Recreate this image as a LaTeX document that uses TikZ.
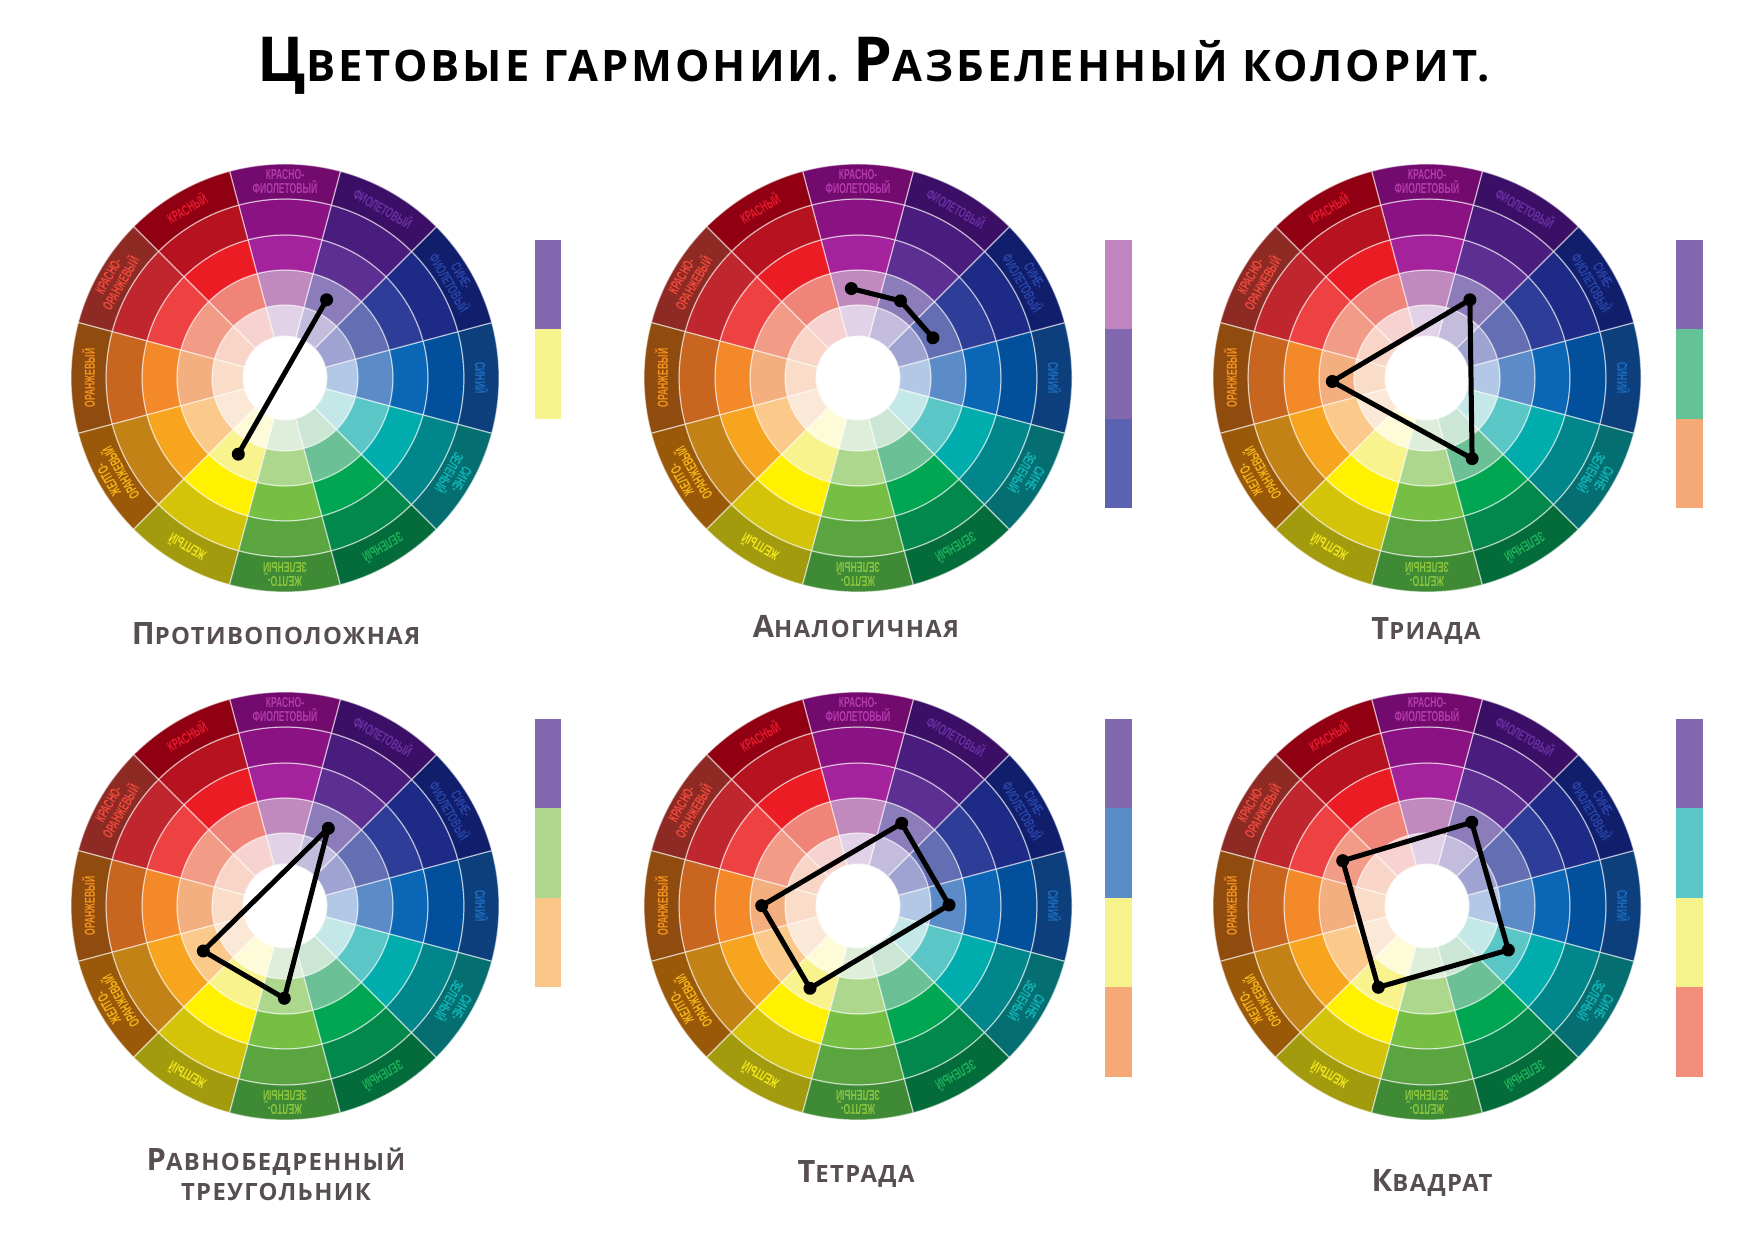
\documentclass[tikz,border=0pt]{standalone}
\usepackage{fontspec}
\setmainfont{Open Sans}
\newfontfamily\ttlfont[LetterSpace=7]{Open Sans}
\newfontfamily\capfont[LetterSpace=6]{Open Sans}
\newfontfamily\lblfont[FakeStretch=0.6]{Liberation Sans}
% ring colours: w<sector>r<ring>, ring 1 innermost .. 5 outermost
\definecolor{w0r5}{HTML}{0C3F7C}\definecolor{w0r4}{HTML}{02509C}\definecolor{w0r3}{HTML}{0B67B5}\definecolor{w0r2}{HTML}{5B8CC8}\definecolor{w0r1}{HTML}{B3C8E6}
\definecolor{w1r5}{HTML}{101E6C}\definecolor{w1r4}{HTML}{1D2A86}\definecolor{w1r3}{HTML}{2D3D98}\definecolor{w1r2}{HTML}{646EB2}\definecolor{w1r1}{HTML}{9EA3D2}
\definecolor{w2r5}{HTML}{3B0F65}\definecolor{w2r4}{HTML}{4A1C7E}\definecolor{w2r3}{HTML}{5E2F93}\definecolor{w2r2}{HTML}{8C7DBA}\definecolor{w2r1}{HTML}{C4BCDD}
\definecolor{w3r5}{HTML}{730A6E}\definecolor{w3r4}{HTML}{8B1282}\definecolor{w3r3}{HTML}{A4229B}\definecolor{w3r2}{HTML}{C08ABF}\definecolor{w3r1}{HTML}{E2D2E7}
\definecolor{w4r5}{HTML}{900012}\definecolor{w4r4}{HTML}{B7121F}\definecolor{w4r3}{HTML}{EC1C24}\definecolor{w4r2}{HTML}{F08479}\definecolor{w4r1}{HTML}{F6D3D0}
\definecolor{w5r5}{HTML}{8D2A24}\definecolor{w5r4}{HTML}{C0262E}\definecolor{w5r3}{HTML}{EE4242}\definecolor{w5r2}{HTML}{F29B86}\definecolor{w5r1}{HTML}{F9D5C8}
\definecolor{w6r5}{HTML}{8F4C0E}\definecolor{w6r4}{HTML}{C8651F}\definecolor{w6r3}{HTML}{F4892A}\definecolor{w6r2}{HTML}{F3AF80}\definecolor{w6r1}{HTML}{FADDC8}
\definecolor{w7r5}{HTML}{9A5908}\definecolor{w7r4}{HTML}{C38215}\definecolor{w7r3}{HTML}{F7A51E}\definecolor{w7r2}{HTML}{FBC98A}\definecolor{w7r1}{HTML}{FCE8D6}
\definecolor{w8r5}{HTML}{A39B0E}\definecolor{w8r4}{HTML}{D3C409}\definecolor{w8r3}{HTML}{FFF100}\definecolor{w8r2}{HTML}{F8F38D}\definecolor{w8r1}{HTML}{FEFBD8}
\definecolor{w9r5}{HTML}{3E8A35}\definecolor{w9r4}{HTML}{5BA541}\definecolor{w9r3}{HTML}{77BF44}\definecolor{w9r2}{HTML}{AED78E}\definecolor{w9r1}{HTML}{DFEEDB}
\definecolor{w10r5}{HTML}{046B3A}\definecolor{w10r4}{HTML}{03884B}\definecolor{w10r3}{HTML}{00A651}\definecolor{w10r2}{HTML}{6BC195}\definecolor{w10r1}{HTML}{CCE6D6}
\definecolor{w11r5}{HTML}{056E71}\definecolor{w11r4}{HTML}{00868B}\definecolor{w11r3}{HTML}{00ACAC}\definecolor{w11r2}{HTML}{5BC6C6}\definecolor{w11r1}{HTML}{C4E8E8}
% label colours
\definecolor{l0}{HTML}{1C6FC2}\definecolor{l1}{HTML}{2A46AA}\definecolor{l2}{HTML}{6B2FA3}\definecolor{l3}{HTML}{B43AAD}
\definecolor{l4}{HTML}{E41B2E}\definecolor{l5}{HTML}{F04A3C}\definecolor{l6}{HTML}{F7941E}\definecolor{l7}{HTML}{F6B519}
\definecolor{l8}{HTML}{F3E81C}\definecolor{l9}{HTML}{8CC63F}\definecolor{l10}{HTML}{1DB25A}\definecolor{l11}{HTML}{12B5B8}
% swatches
\definecolor{svio}{HTML}{8268AF}\definecolor{syel}{HTML}{F6F38C}\definecolor{spink}{HTML}{C084BF}
\definecolor{sbv}{HTML}{5B62B2}\definecolor{sgrn}{HTML}{64C297}\definecolor{sorg}{HTML}{F4A977}
\definecolor{slg}{HTML}{AED68D}\definecolor{slo}{HTML}{FBC788}\definecolor{sblu}{HTML}{5B8CC8}
\definecolor{steal}{HTML}{5BC6C6}\definecolor{ssal}{HTML}{F28F7C}
\definecolor{capgray}{HTML}{574F4F}

\newcommand\colorwheel[3]{%
\begin{scope}[shift={(#1,#2)}]
\foreach \i in {0,...,11}{%
  \pgfmathsetmacro\sa{\i*30-15}%
  \pgfmathsetmacro\ea{\i*30+15}%
  \foreach \k/\ri/\ro in {1/42/73,2/73/108,3/108/143,4/143/179,5/179/214}{%
    \filldraw[fill=w\i r\k, draw=white, draw opacity=0.55, line width=0.6pt]
      (\sa:\ri) arc[start angle=\sa, end angle=\ea, radius=\ri]
      -- (\ea:\ro) arc[start angle=\ea, end angle=\sa, radius=\ro] -- cycle;
  }%
}%
\foreach \i/\t in {0/{СИНИЙ},1/{СИНЕ-\\ФИОЛЕТОВЫЙ},2/{ФИОЛЕТОВЫЙ},3/{КРАСНО-\\ФИОЛЕТОВЫЙ},4/{КРАСНЫЙ},5/{КРАСНО-\\ОРАНЖЕВЫЙ},6/{ОРАНЖЕВЫЙ},7/{ЖЕЛТО-\\ОРАНЖЕВЫЙ},8/{ЖЕЛТЫЙ},9/{ЖЕЛТО-\\ЗЕЛЕНЫЙ},10/{ЗЕЛЕНЫЙ},11/{СИНЕ-\\ЗЕЛЕНЫЙ}}{%
  \pgfmathsetmacro\ang{\i*30}%
  \node[lbl, text=l\i, rotate=\ang-90] (#3l\i) at (\ang:196.5) {\t};
}%
\end{scope}}

\begin{document}
\begin{tikzpicture}[x=0.5pt,y=0.5pt,
  lbl/.style={font=\lblfont\bfseries\fontsize{7.2}{7.2}\selectfont, align=center, inner sep=0pt},
  dot/.style={circle, fill=black, inner sep=0pt, minimum size=6.5pt},
  conn/.style={line width=2.5pt, line join=round, line cap=round},
  capt/.style={font=\capfont\bfseries, text=capgray, anchor=base, align=center}]
\useasboundingbox (0,0) rectangle (1754,1240);
\fill[white] (0,0) rectangle (1754,1240);

\node[anchor=base, font=\ttlfont\bfseries] (title) at (874,1158)
 {{\fontsize{31}{31}\selectfont Ц}\fontsize{21.7}{22}\selectfont ВЕТОВЫЕ ГАРМОНИИ. {\fontsize{31}{31}\selectfont Р}АЗБЕЛЕННЫЙ КОЛОРИТ.};

\colorwheel{285}{862}{a}
\colorwheel{858}{862}{b}
\colorwheel{1427}{862}{c}
\colorwheel{285}{334}{d}
\colorwheel{858}{334}{e}
\colorwheel{1427}{334}{f}

% swatches
\fill[svio] (535,1000) rectangle (561,910.5);
\fill[syel] (535,910.5) rectangle (561,821);
\fill[spink] (1105,1000) rectangle (1132,910.5);
\fill[svio] (1105,910.5) rectangle (1132,821);
\fill[sbv] (1105,821) rectangle (1132,731.5);
\fill[svio] (1676,1000) rectangle (1703,910.5);
\fill[sgrn] (1676,910.5) rectangle (1703,821);
\fill[sorg] (1676,821) rectangle (1703,731.5);
\fill[svio] (535,521) rectangle (561,431.5);
\fill[slg] (535,431.5) rectangle (561,342);
\fill[slo] (535,342) rectangle (561,252.5);
\fill[svio] (1105,521) rectangle (1132,431.5);
\fill[sblu] (1105,431.5) rectangle (1132,342);
\fill[syel] (1105,342) rectangle (1132,252.5);
\fill[sorg] (1105,252.5) rectangle (1132,163);
\fill[svio] (1676,521) rectangle (1703,431.5);
\fill[steal] (1676,431.5) rectangle (1703,342);
\fill[syel] (1676,342) rectangle (1703,252.5);
\fill[ssal] (1676,252.5) rectangle (1703,163);

% harmony connectors
\node[dot] (a1) at (326.6,940.2) {};
\node[dot] (a2) at (238.3,785.8) {};
\draw[conn] (a1.center) -- (a2.center);

\node[dot] (b1) at (851.3,951.4) {};
\node[dot] (b2) at (900.5,939.1) {};
\node[dot] (b3) at (932.9,902.2) {};
\draw[conn] (b1.center) -- (b2.center) -- (b3.center);

\node[dot] (c1) at (1469.9,940.2) {};
\node[dot] (c2) at (1332.3,858.5) {};
\node[dot] (c3) at (1472.1,781.4) {};
\draw[conn] (c1.center) -- (c2.center) -- (c3.center) -- cycle;

\node[dot] (d1) at (328.3,411.7) {};
\node[dot] (d2) at (203.3,289) {};
\node[dot] (d3) at (284.3,241.7) {};
\draw[conn] (d1.center) -- (d2.center) -- (d3.center) -- cycle;

\node[dot] (e1) at (901.7,416.7) {};
\node[dot] (e2) at (949,335) {};
\node[dot] (e3) at (810,251.7) {};
\node[dot] (e4) at (761.7,334.3) {};
\draw[conn] (e1.center) -- (e2.center) -- (e3.center) -- (e4.center) -- cycle;

\node[dot] (f1) at (1471.7,417.7) {};
\node[dot] (f2) at (1508.3,290) {};
\node[dot] (f3) at (1378.3,252.7) {};
\node[dot] (f4) at (1342.7,379.3) {};
\draw[conn] (f1.center) -- (f2.center) -- (f3.center) -- (f4.center) -- cycle;

% captions
\node[capt] (cap1) at (276,595) {{\fontsize{15.4}{16}\selectfont П}\fontsize{11.9}{14}\selectfont РОТИВОПОЛОЖНАЯ};
\node[capt] (cap2) at (856,602) {{\fontsize{15.4}{16}\selectfont А}\fontsize{11.9}{14}\selectfont НАЛОГИЧНАЯ};
\node[capt] (cap3) at (1426,600) {{\fontsize{15.4}{16}\selectfont Т}\fontsize{11.9}{14}\selectfont РИАДА};
\node[capt] (cap4a) at (276,69) {{\fontsize{15.4}{16}\selectfont Р}\fontsize{11.9}{14}\selectfont АВНОБЕДРЕННЫЙ};
\node[capt] (cap4b) at (276,39) {\fontsize{11.9}{14}\selectfont ТРЕУГОЛЬНИК};
\node[capt] (cap5) at (856,57) {{\fontsize{15.4}{16}\selectfont Т}\fontsize{11.9}{14}\selectfont ЕТРАДА};
\node[capt] (cap6) at (1432,48) {{\fontsize{15.4}{16}\selectfont К}\fontsize{11.9}{14}\selectfont ВАДРАТ};
\end{tikzpicture}
\end{document}
